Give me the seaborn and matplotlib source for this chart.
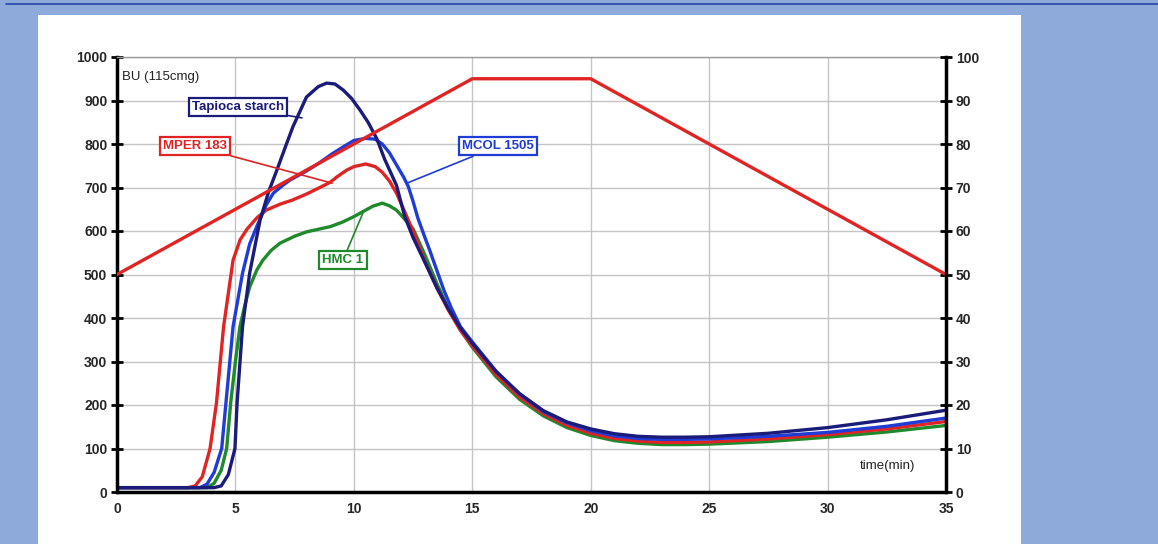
import matplotlib
matplotlib.use("Agg")
import matplotlib.pyplot as plt
import matplotlib.patches as mpatches
import matplotlib.lines as mlines
import seaborn as sns
import numpy as np

# Tapioca starch (navy)
tap_t = [0, 2, 4.1, 4.4, 4.7, 4.98, 5.07, 5.3, 5.6, 6.04, 6.4, 6.75, 7.1, 7.43, 8.0, 8.5,
         8.85, 9.2, 9.55, 9.9, 10.26, 10.6, 10.97, 11.3, 11.8, 12.15, 12.5, 13.0, 13.5, 14.0,
         14.5, 15, 16, 17, 18, 19, 20, 21, 22, 23, 24, 25, 27.5, 30, 32.5, 35]
tap_v = [10, 10, 10, 14, 40, 100, 205, 380, 503, 625, 690, 740, 792, 840, 908, 932,
         940, 938, 924, 905, 878, 850, 812, 765, 705, 633, 585, 528, 470, 420,
         377, 342, 277, 226, 187, 161, 145, 134, 128, 126, 126, 127, 135, 148, 166, 188]

# MCOL 1505 (blue)
mcol_t = [0, 2, 3.5, 3.8, 4.1, 4.42, 4.6, 4.9, 5.3, 5.6, 5.9, 6.3, 6.6, 7.0, 7.3, 8.0, 8.5,
          9.1, 9.6, 10.0, 10.5, 10.9, 11.2, 11.5, 11.8, 12.1, 12.3, 12.5, 12.7, 13.0, 13.2,
          13.5, 13.8, 14.1, 14.5, 15, 16, 17, 18, 19, 20, 21, 22, 23, 24, 25, 27.5, 30, 32.5, 35]
mcol_v = [10, 10, 10, 18, 45, 100, 205, 380, 503, 570, 610, 660, 687, 705, 717, 738, 755,
          778, 795, 808, 813, 811, 800, 780, 752, 724, 702, 668, 630, 585, 556,
          510, 464, 425, 380, 345, 278, 225, 185, 159, 141, 129, 123, 121, 121, 122, 128, 137, 151, 170]

# MPER 183 (red)
mper_t = [0, 2, 3.0, 3.3, 3.6, 3.93, 4.2, 4.5, 4.9, 5.2, 5.5, 5.9, 6.3, 6.9, 7.4, 8.0, 8.6,
          9.0, 9.3, 9.7, 10.0, 10.5, 10.9, 11.2, 11.5, 11.8, 12.1, 12.5, 13.0, 13.5, 14.0,
          14.5, 15, 16, 17, 18, 19, 20, 21, 22, 23, 24, 25, 27.5, 30, 32.5, 35]
mper_v = [10, 10, 10, 14, 35, 100, 205, 380, 533, 580, 605, 630, 648, 662, 671, 685, 701,
          712, 725, 740, 748, 754, 748, 735, 715, 687, 650, 600, 530, 470, 417,
          372, 336, 270, 218, 180, 153, 135, 123, 117, 114, 114, 115, 122, 132, 145, 162]

# HMC 1 (green)
hmc_t = [0, 2, 3.8, 4.1, 4.4, 4.63, 4.8, 5.0, 5.19, 5.4, 5.6, 5.9, 6.16, 6.5, 6.88, 7.5, 8.0,
         8.5, 9.0, 9.5, 10.0, 10.5, 10.8, 11.2, 11.5, 11.8, 12.1, 12.5, 13.0, 13.5, 14.0,
         14.5, 15, 16, 17, 18, 19, 20, 21, 22, 23, 24, 25, 27.5, 30, 32.5, 35]
hmc_v = [10, 10, 10, 20, 50, 100, 205, 300, 380, 430, 471, 510, 533, 555, 572, 588, 598,
         604, 610, 620, 633, 648, 657, 664, 658, 648, 630, 605, 545, 480, 420,
         372, 333, 265, 213, 175, 148, 130, 118, 112, 109, 109, 110, 116, 126, 138, 153]

# temperature profile (right axis)
temp_t = [0, 15, 20, 35]
temp_v = [50, 95, 95, 50]

navy = "#1b1b7a"
blue = "#1f3cd6"
red = "#e02424"
green = "#1f8a2c"

sns.set_style("white")
plt.rcParams["font.family"] = ["Liberation Sans", "DejaVu Sans"]

fig = plt.figure(figsize=(11.58, 5.44), dpi=100, facecolor="#8eaadb")
# white panel + top rule
fig.patches.append(mpatches.Rectangle((38 / 1158, 0), (1021 - 38) / 1158, 1 - 15 / 544,
                                      transform=fig.transFigure, facecolor="white",
                                      edgecolor="none", zorder=-10))
fig.lines.append(mlines.Line2D([6 / 1158, 1], [1 - 4 / 544, 1 - 4 / 544],
                               transform=fig.transFigure, color="#2a45a8", lw=1.2))

ax = fig.add_axes([117 / 1158, 1 - 492 / 544, (946 - 117) / 1158, (492 - 57) / 544])
ax.set_facecolor("none")

sns.lineplot(x=hmc_t, y=hmc_v, color=green, lw=2.4, ax=ax)
sns.lineplot(x=mper_t, y=mper_v, color=red, lw=2.4, ax=ax)
sns.lineplot(x=mcol_t, y=mcol_v, color=blue, lw=2.4, ax=ax)
sns.lineplot(x=tap_t, y=tap_v, color=navy, lw=2.4, ax=ax)

ax.set_xlim(0, 35)
ax.set_ylim(0, 1000)
ax.set_xticks(np.arange(0, 36, 5))
ax.set_yticks(np.arange(0, 1001, 100))
ax.grid(True, color="#c4c4c4", lw=1)
ax.set_axisbelow(True)

tick_font = dict(family=["Liberation Sans Narrow", "Liberation Sans"], weight="bold", size=10)
for lab in ax.get_xticklabels() + ax.get_yticklabels():
    lab.set_fontproperties(matplotlib.font_manager.FontProperties(**tick_font))
ax.tick_params(direction="inout", length=8, width=2, color="black", pad=3)

for side in ["left", "bottom"]:
    ax.spines[side].set_linewidth(2.5)
    ax.spines[side].set_color("black")
ax.spines["top"].set_color("#9a9a9a")
ax.spines["top"].set_linewidth(1)
ax.spines["right"].set_visible(False)

ax2 = ax.twinx()
sns.lineplot(x=temp_t, y=temp_v, color=red, lw=2.4, ax=ax2)
ax2.set_ylim(0, 100)
ax2.set_yticks(np.arange(0, 101, 10))
ax2.set_ylabel("")
for lab in ax2.get_yticklabels():
    lab.set_fontproperties(matplotlib.font_manager.FontProperties(**tick_font))
ax2.tick_params(direction="inout", length=8, width=2, color="black", pad=3)
for side in ["left", "top", "bottom"]:
    ax2.spines[side].set_visible(False)
ax2.spines["right"].set_linewidth(2.5)
ax2.spines["right"].set_color("black")
ax.set_xlabel("")
ax.set_ylabel("")

ax.text(0.006, 0.954, "BU (115cmg)", transform=ax.transAxes, fontsize=9.5,
        color="#222222", ha="left", va="center")
ax.text(0.93, 0.06, "time(min)", transform=ax.transAxes, fontsize=9.5,
        color="#222222", ha="center", va="center")

labels = [
    ("Tapioca starch", navy, (5.11, 885), (7.81, 860)),
    ("MPER 183", red, (3.29, 795), (9.08, 710)),
    ("MCOL 1505", blue, (16.08, 795), (12.24, 710)),
    ("HMC 1", green, (9.54, 533), (10.38, 641)),
]
for text, col, xy_text, xy_pt in labels:
    ax2.annotate(text, xy=(xy_pt[0], xy_pt[1] / 10), xytext=(xy_text[0], xy_text[1] / 10),
                 color=col, fontsize=9.5, fontweight="bold", ha="center", va="center",
                 bbox=dict(boxstyle="square,pad=0.25", fc="white", ec=col, lw=1.6),
                 arrowprops=dict(arrowstyle="-", color=col, lw=1.2, shrinkA=0, shrinkB=0))

fig.savefig("out.png", dpi=100, facecolor=fig.get_facecolor())
